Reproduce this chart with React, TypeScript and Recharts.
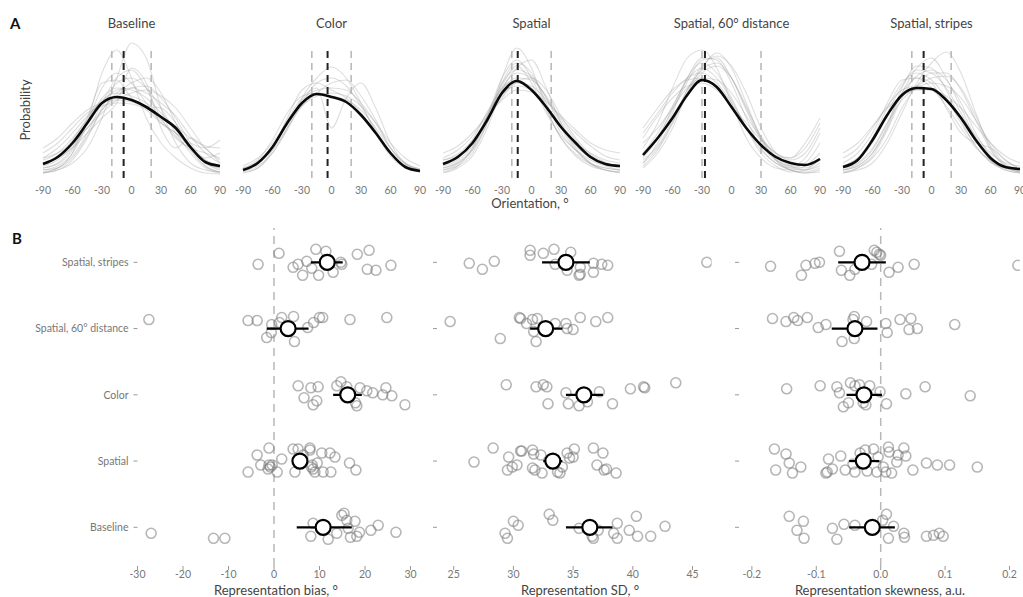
import React from 'react';
import { LineChart, Line, XAxis, YAxis, ReferenceLine, ScatterChart, Scatter } from 'recharts';

// ---------- Panel A data ----------
const panelTitles = ['Baseline', 'Color', 'Spatial', 'Spatial, 60° distance', 'Spatial, stripes'];
const orientations = [-90, -75, -60, -45, -30, -15, 0, 15, 30, 45, 60, 75, 90];
const orientationTicks = [-90, -60, -30, 0, 30, 60, 90];

const meanBaseline = [14, 21, 35, 55, 75, 81, 78, 71, 61, 50, 31, 16, 12];
const meanColor = [8, 15, 31, 55, 75, 84, 81, 76, 63, 45, 25, 11, 7];
const meanSpatial = [14, 21, 35, 58, 85, 97, 88, 71, 51, 35, 21, 14, 12];
const meanSpatial60 = [23, 40, 60, 83, 98, 91, 71, 50, 33, 21, 15, 13, 19];
const meanStripes = [11, 18, 38, 63, 83, 90, 89, 78, 60, 38, 20, 11, 9];

const grayBaseline = [
  [8, 12, 25, 55, 105, 128, 100, 60, 35, 20, 10, 5, 4],
  [5, 8, 15, 30, 60, 100, 135, 120, 70, 35, 15, 8, 6],
  [10, 15, 30, 55, 80, 90, 88, 80, 65, 50, 30, 15, 8],
  [15, 22, 38, 60, 78, 85, 82, 75, 62, 48, 30, 18, 12],
  [20, 30, 45, 62, 75, 80, 78, 70, 58, 42, 28, 20, 25],
  [5, 8, 18, 40, 70, 95, 100, 90, 70, 45, 25, 10, 5],
  [12, 18, 32, 50, 68, 82, 90, 92, 80, 60, 35, 18, 10],
  [25, 35, 50, 65, 72, 75, 74, 68, 55, 45, 35, 30, 38],
  [8, 10, 20, 42, 68, 85, 95, 100, 85, 55, 28, 12, 6],
  [15, 20, 30, 45, 60, 75, 110, 95, 50, 30, 40, 30, 15],
  [5, 10, 22, 45, 75, 100, 108, 90, 60, 40, 30, 25, 20],
  [18, 25, 40, 58, 75, 88, 90, 85, 75, 62, 42, 25, 15],
  [30, 40, 55, 68, 75, 78, 76, 70, 62, 52, 40, 32, 30],
  [10, 14, 28, 55, 90, 105, 95, 75, 55, 45, 30, 15, 10],
  [6, 10, 25, 60, 95, 98, 80, 72, 70, 55, 30, 12, 6],
  [20, 25, 35, 50, 65, 78, 85, 88, 82, 70, 50, 30, 18],
];
const grayColor = [
  [6, 10, 25, 50, 80, 100, 111, 100, 75, 45, 22, 10, 6],
  [8, 14, 30, 55, 78, 88, 90, 88, 75, 55, 30, 14, 8],
  [10, 16, 32, 58, 80, 90, 50, 80, 95, 70, 35, 15, 9],
  [5, 10, 28, 60, 88, 95, 88, 80, 65, 45, 25, 12, 6],
  [9, 15, 28, 50, 72, 85, 95, 98, 82, 58, 30, 14, 8],
  [12, 20, 35, 55, 72, 82, 85, 82, 72, 55, 35, 20, 12],
  [7, 12, 25, 48, 75, 95, 100, 92, 72, 48, 26, 12, 7],
  [10, 18, 38, 65, 82, 85, 82, 78, 68, 50, 30, 15, 9],
];
const graySpatial = [
  [10, 15, 28, 55, 100, 130, 110, 70, 40, 22, 12, 8, 6],
  [15, 20, 35, 62, 90, 105, 100, 80, 55, 35, 22, 15, 12],
  [8, 12, 25, 55, 95, 115, 105, 75, 45, 28, 15, 10, 8],
  [20, 28, 42, 65, 85, 92, 88, 72, 52, 35, 25, 18, 15],
  [12, 18, 32, 58, 88, 100, 98, 82, 58, 38, 22, 14, 10],
  [5, 10, 22, 50, 88, 110, 118, 90, 55, 30, 15, 8, 5],
  [18, 22, 35, 60, 82, 95, 92, 78, 60, 45, 32, 22, 18],
  [8, 14, 28, 58, 92, 112, 95, 65, 42, 28, 18, 12, 8],
  [14, 20, 38, 66, 90, 98, 90, 70, 50, 32, 20, 14, 12],
  [6, 12, 30, 62, 95, 108, 102, 80, 50, 28, 14, 8, 6],
  [25, 32, 45, 62, 78, 88, 86, 76, 62, 48, 35, 28, 25],
  [10, 16, 30, 62, 100, 118, 100, 68, 40, 24, 14, 10, 8],
  [18, 24, 38, 58, 80, 96, 100, 88, 62, 40, 24, 16, 12],
];
const graySpatial60 = [
  [30, 55, 90, 120, 128, 110, 75, 40, 20, 10, 8, 12, 25],
  [15, 35, 65, 100, 115, 105, 80, 50, 25, 12, 6, 8, 20],
  [45, 65, 85, 100, 105, 95, 75, 52, 32, 18, 12, 20, 45],
  [20, 40, 70, 100, 120, 118, 95, 60, 30, 15, 8, 6, 10],
  [10, 25, 50, 85, 110, 125, 110, 75, 40, 18, 8, 5, 8],
  [35, 50, 70, 90, 100, 98, 85, 62, 40, 25, 18, 25, 50],
  [25, 45, 72, 98, 110, 100, 78, 50, 28, 15, 10, 15, 35],
  [18, 32, 58, 88, 108, 115, 100, 70, 40, 20, 10, 8, 15],
  [40, 62, 80, 92, 95, 88, 72, 55, 38, 25, 20, 30, 55],
  [12, 28, 55, 88, 112, 122, 112, 85, 50, 25, 12, 8, 12],
  [22, 40, 68, 96, 118, 120, 100, 68, 38, 18, 8, 5, 6],
  [50, 70, 88, 98, 100, 90, 70, 50, 32, 22, 20, 35, 60],
  [15, 30, 55, 85, 105, 112, 100, 72, 42, 22, 12, 10, 18],
];
const grayStripes = [
  [8, 12, 25, 50, 85, 110, 120, 100, 70, 40, 18, 8, 5],
  [5, 8, 15, 35, 65, 95, 115, 126, 105, 65, 30, 12, 6],
  [12, 20, 40, 70, 95, 105, 98, 80, 55, 32, 16, 10, 8],
  [15, 25, 45, 75, 98, 100, 90, 72, 50, 30, 18, 12, 10],
  [6, 10, 20, 40, 70, 92, 105, 105, 88, 58, 28, 12, 6],
  [10, 18, 35, 65, 92, 108, 105, 90, 65, 38, 18, 10, 8],
  [20, 30, 50, 72, 88, 92, 88, 78, 62, 42, 25, 15, 12],
  [8, 14, 28, 55, 85, 102, 108, 98, 75, 45, 22, 10, 6],
  [5, 10, 22, 48, 80, 100, 95, 70, 45, 35, 30, 18, 8],
  [10, 15, 30, 55, 78, 90, 95, 92, 80, 58, 35, 18, 10],
  [25, 35, 52, 70, 82, 88, 88, 82, 70, 52, 35, 22, 15],
  [8, 12, 25, 52, 90, 112, 110, 88, 58, 32, 16, 8, 5],
  [12, 20, 38, 62, 82, 92, 100, 102, 90, 62, 32, 14, 8],
];

const biasMarkers = [-8, -4, -14, -27, -8];
const distractorMarkers = [[-20, 20], [-20, 20], [-20, 20], [-30, 30], [-20, 20]];
const dashedTop = 131;

const means = [meanBaseline, meanColor, meanSpatial, meanSpatial60, meanStripes];
const grays = [grayBaseline, grayColor, graySpatial, graySpatial60, grayStripes];

// ---------- Panel B data (rows bottom -> top) ----------
const rowLabels = ['Baseline', 'Spatial', 'Color', 'Spatial, 60° distance', 'Spatial, stripes'];

const biasBaseline = [-27.0, -13.3, -10.8, 8.1, 8.6, 11.9, 13.8, 14.9, 15.4, 16.0, 16.3, 16.8, 17.8, 18.2, 18.8, 21.3, 22.9, 26.8];
const biasBaselineJ = [6, 11, 11, 9, -4, 12, 6, -12, -14, -7, 1, 10, -6, 9, 5, 3, -2, 5];
const biasSpatial = [-5.7, -3.7, -2.9, -1.1, -1.1, -1.3, -0.4, 0.7, 1.7, 4.6, 4.2, 5.3, 6.4, 7.9, 7.9, 8.4, 8.6, 9.0, 10.5, 10.8, 12.3, 12.5, 13.4, 16.6, 18.0, -0.8, 8.2, 9.5];
const biasSpatialJ = [11, -6, 4, -13, 4, 8, 4, 11, -2, 11, -12, -12, -6, -13, -11, 4, 8, 11, -8, 11, -8, 11, -4, 2, 9, 6, 6, 2];
const biasColor = [5.3, 6.6, 8.1, 8.6, 9.4, 9.7, 13.8, 14.7, 16.0, 17.9, 18.2, 18.9, 20.4, 21.7, 23.9, 24.6, 25.9, 28.8];
const biasColorJ = [-9, 3, -7, 10, 6, -8, -9, -13, -8, 8, 11, -7, -4, -2, 0, -7, 1, 10];
const biasSpatial60 = [-27.5, -5.7, -3.7, -1.6, -0.6, -0.5, 1.2, 1.7, 4.3, 4.5, 7.4, 8.7, 10.0, 10.7, 16.7, 24.8];
const biasSpatial60J = [-9, -8, -8, 9, 4, -4, -6, -11, -12, 13, -1, -6, -11, -11, -9, -11];
const biasStripes = [-3.5, 1.1, 4.2, 5.3, 6.3, 7.2, 8.3, 9.2, 9.8, 11.4, 13.0, 14.7, 14.9, 18.3, 20.9, 20.5, 22.4, 25.7];
const biasStripesJ = [2, -9, 5, 2, 13, -1, 6, -13, 13, -11, 10, 0, 2, -8, -12, 7, 8, 3];
const biasMeans = [10.8, 5.7, 16.2, 3.1, 11.7];
const biasCI = [[5.0, 17.1], [4.6, 6.9], [13.0, 19.3], [-1.6, 7.6], [8.1, 15.1]];

const sdBaseline = [29.3, 29.5, 30.0, 30.4, 33.0, 33.3, 35.5, 36.7, 36.6, 37.1, 38.4, 38.7, 38.7, 39.7, 40.3, 40.4, 41.5, 42.7];
const sdBaselineJ = [6, 11, -6, -2, -13, -7, 1, 11, 9, 3, 6, -4, 11, 3, -11, 9, 9, -1];
const sdSpatial = [26.7, 28.3, 29.6, 29.5, 29.9, 30.3, 30.6, 30.7, 31.6, 31.7, 31.6, 31.8, 32.3, 32.4, 33.7, 33.9, 34.1, 34.5, 34.7, 35.1, 35.0, 36.7, 37.5, 37.0, 37.6, 37.8, 38.6];
const sdSpatialJ = [1, -13, -4, 9, 6, 4, -10, -10, -11, -7, 7, 9, -6, 12, 11, 12, 6, -8, -3, -12, -4, -13, -8, 4, 9, 8, 12];
const sdColor = [29.4, 31.9, 32.5, 32.8, 32.9, 34.4, 34.6, 35.5, 36.2, 37.2, 38.3, 39.8, 40.9, 41.0, 43.6];
const sdColorJ = [-10, -8, -10, -8, 9, -2, 9, 11, 7, -3, 9, -6, -8, -7, -12];
const sdSpatial60 = [24.7, 28.9, 30.5, 30.6, 31.1, 31.6, 32.0, 31.7, 31.9, 33.5, 34.4, 34.5, 35.0, 35.6, 36.9, 37.9];
const sdSpatial60J = [-7, 10, -11, -10, -5, -9, -10, 3, 13, -5, -5, 0, 1, -11, -7, -11];
const sdStripes = [26.3, 27.4, 28.4, 31.4, 31.4, 32.5, 33.4, 34.8, 33.5, 34.5, 35.6, 35.5, 35.6, 36.7, 36.7, 37.4, 37.9, 46.2];
const sdStripesJ = [1, 7, -1, -12, -7, -9, -13, -10, 2, 8, 5, 13, 12, 10, 1, 2, 3, 0];
const sdMeans = [36.4, 33.3, 35.9, 32.7, 34.4];
const sdCI = [[34.4, 38.3], [32.5, 34.1], [34.4, 37.5], [31.4, 34.1], [32.4, 36.4]];

const skBaseline = [-0.142, -0.120, -0.130, -0.119, -0.075, -0.068, -0.057, -0.040, 0.003, 0.009, 0.020, 0.012, 0.036, 0.037, 0.071, 0.082, 0.091, 0.097];
const skBaselineJ = [-11, -6, 3, 11, 1, 12, -3, -2, -7, -13, -1, 11, 6, 10, 9, 8, 6, 9];
const skSpatial = [-0.165, -0.163, -0.147, -0.142, -0.137, -0.124, -0.085, -0.083, -0.081, -0.075, -0.062, -0.055, -0.043, -0.040, -0.032, -0.024, -0.021, -0.011, -0.006, -0.004, 0.004, 0.008, 0.012, 0.013, 0.017, 0.025, 0.027, 0.036, 0.039, 0.050, 0.071, 0.088, 0.107, 0.150];
const skSpatialJ = [-12, 9, -7, 2, 12, 6, 12, 11, -2, 8, -5, 9, 3, 11, -8, -11, 10, -12, 11, -4, 6, 11, -14, -9, 12, 1, -6, -13, -5, 9, 2, 4, 4, 6];
const skColor = [-0.146, -0.094, -0.068, -0.064, -0.047, -0.040, -0.033, -0.017, -0.001, -0.050, -0.058, -0.027, -0.023, 0.009, 0.039, 0.069, 0.139];
const skColorJ = [-6, -9, -8, -2, -12, -9, -10, -9, -3, 8, 12, 8, 10, 9, -1, -8, 1];
const skSpatial60 = [-0.168, -0.147, -0.135, -0.129, -0.114, -0.097, -0.085, -0.041, -0.043, -0.022, -0.041, -0.060, 0.008, 0.010, 0.030, 0.047, 0.044, 0.057, 0.115];
const skSpatial60J = [-10, -7, -11, -8, -11, -1, -4, -12, -9, -7, 10, 13, -5, 4, -9, -10, 1, 0, -4];
const skStripes = [-0.171, -0.064, -0.123, -0.116, -0.102, -0.095, -0.061, -0.048, -0.040, -0.014, -0.010, -0.006, -0.002, 0.000, 0.013, 0.027, 0.052, 0.213];
const skStripesJ = [4, -11, 13, 3, 1, 0, 8, 13, 7, 2, -12, -10, -8, -7, 10, 5, 2, 3];
const skMeans = [-0.013, -0.027, -0.026, -0.040, -0.029];
const skCI = [[-0.049, 0.022], [-0.049, -0.002], [-0.053, 0.002], [-0.076, -0.005], [-0.066, 0.008]];

const biasTicks = [-30, -20, -10, 0, 10, 20, 30];
const sdTicks = [25, 30, 35, 40, 45];
const skTicks = [-0.2, -0.1, 0, 0.1, 0.2];

const FONT = "'Lato', 'Open Sans', sans-serif";
const ROW_PX = 66.25;

function DensityPanel({ i }: { i: number }) {
  const gray = grays[i];
  const mean = means[i];
  const data = orientations.map((o, k) => {
    const row: any = { x: o, mean: mean[k] };
    gray.forEach((g, j) => {
      row['g' + j] = g[k];
    });
    return row;
  });
  return (
    <div style={{ position: 'absolute', left: 33 + 200 * i, top: 0 }}>
      <LineChart width={200} height={210} data={data} margin={{ top: 38, right: 13, bottom: 0, left: 10 }}>
        <XAxis
          dataKey="x"
          type="number"
          domain={[-90, 90]}
          ticks={orientationTicks}
          interval={0}
          axisLine={false}
          tickLine={false}
          tickMargin={3}
          height={32}
          tick={{ fontSize: 10.5, fill: '#777', fontFamily: FONT }}
        />
        <YAxis hide domain={[0, 140]} allowDataOverflow />
        {gray.map((_, j) => (
          <Line
            key={j}
            dataKey={'g' + j}
            type="monotone"
            stroke="#9a9a9a"
            strokeOpacity={0.33}
            strokeWidth={1.1}
            dot={false}
            isAnimationActive={false}
          />
        ))}
        {distractorMarkers[i].map((d, j) => (
          <ReferenceLine
            key={'d' + j}
            segment={[{ x: d, y: 0 }, { x: d, y: dashedTop }]}
            stroke="#b5b5b5"
            strokeWidth={1.5}
            strokeDasharray="7 5"
          />
        ))}
        <ReferenceLine
          segment={[{ x: biasMarkers[i], y: 0 }, { x: biasMarkers[i], y: dashedTop }]}
          stroke="#222"
          strokeWidth={2}
          strokeDasharray="7 5"
        />
        <Line dataKey="mean" type="monotone" stroke="#0a0a0a" strokeWidth={2.6} dot={false} isAnimationActive={false} />
      </LineChart>
    </div>
  );
}

const GrayDot = (p: any) => (
  <circle cx={p.cx} cy={p.cy} r={5} fill="none" stroke="#7a7a7a" strokeOpacity={0.55} strokeWidth={1.6} />
);
const MeanDot = (p: any) => (
  <circle cx={p.cx} cy={p.cy} r={7.5} fill="#fff" stroke="#000" strokeWidth={2.2} />
);
const NoDot = () => <g />;

type DotPanelProps = {
  left: number;
  width: number;
  yWidth: number;
  right: number;
  domain: [number, number];
  ticks: number[];
  xs: number[][];
  js: number[][];
  rowMeans: number[];
  cis: number[][];
  showLabels: boolean;
  zeroLine: boolean;
  fmt?: (v: number) => string;
};

function DotPanel(props: DotPanelProps) {
  const { left, width, yWidth, right, domain, ticks, xs, js, rowMeans, cis, showLabels, zeroLine, fmt } = props;
  const points = xs.flatMap((row, r) => row.map((x, k) => ({ x, y: r - js[r][k] / ROW_PX })));
  const meanData = rowMeans.map((m, r) => ({ x: m, y: r }));
  return (
    <div style={{ position: 'absolute', left, top: 220 }}>
      <ScatterChart width={width} height={377} margin={{ top: 8, right, bottom: 0, left: 0 }}>
        <XAxis
          dataKey="x"
          type="number"
          domain={domain}
          allowDataOverflow
          ticks={ticks}
          interval={0}
          axisLine={false}
          tickLine={{ stroke: '#999' }}
          tickSize={4}
          tickMargin={1}
          height={31}
          tickFormatter={fmt}
          tick={{ fontSize: 10.5, fill: '#777', fontFamily: FONT }}
        />
        <YAxis
          dataKey="y"
          type="number"
          domain={[-0.584, 4.518]}
          allowDataOverflow
          ticks={[0, 1, 2, 3, 4]}
          interval={0}
          axisLine={false}
          tickLine={{ stroke: '#999' }}
          tickSize={4}
          tickMargin={5}
          width={yWidth}
          tickFormatter={(v: number) => (showLabels ? rowLabels[v] : '')}
          tick={{ fontSize: 10.5, fill: '#777', fontFamily: FONT }}
        />
        {zeroLine && <ReferenceLine x={0} stroke="#b8b8b8" strokeWidth={1.5} strokeDasharray="8 6" />}
        <Scatter data={points} shape={GrayDot} isAnimationActive={false} />
        {cis.map((c, r) => (
          <Scatter
            key={'ci' + r}
            data={[{ x: c[0], y: r }, { x: c[1], y: r }]}
            line={{ stroke: '#000', strokeWidth: 2.2 }}
            shape={NoDot}
            isAnimationActive={false}
          />
        ))}
        <Scatter data={meanData} shape={MeanDot} isAnimationActive={false} />
      </ScatterChart>
    </div>
  );
}

const labelStyle: React.CSSProperties = {
  position: 'absolute',
  fontFamily: FONT,
  fontSize: 13,
  color: '#444',
  lineHeight: '16px',
  whiteSpace: 'nowrap',
  textAlign: 'center',
};

export default function App() {
  return (
    <div
      style={{
        position: 'absolute',
        left: 0,
        top: 0,
        width: 1023,
        height: 597,
        background: '#fff',
        fontFamily: FONT,
        overflow: 'hidden',
      }}
    >
      {panelTitles.map((t, i) => (
        <div key={t} style={{ ...labelStyle, left: 31.5 + 200 * i, width: 200, top: 15 }}>
          {t}
        </div>
      ))}
      {[0, 1, 2, 3, 4].map((i) => (
        <DensityPanel key={i} i={i} />
      ))}
      <div style={{ ...labelStyle, left: 430, width: 200, top: 195 }}>Orientation, °</div>
      <div
        style={{
          ...labelStyle,
          left: 25,
          top: 110,
          transform: 'translate(-50%, -50%) rotate(-90deg)',
        }}
      >
        Probability
      </div>
      <div style={{ position: 'absolute', left: 10, top: 14, fontFamily: FONT, fontWeight: 700, fontSize: 15, color: '#111' }}>A</div>
      <div style={{ position: 'absolute', left: 12, top: 229, fontFamily: FONT, fontWeight: 700, fontSize: 15, color: '#111' }}>B</div>

      <DotPanel
        left={0}
        width={420}
        yWidth={137.5}
        right={9.5}
        domain={[-30, 30]}
        ticks={biasTicks}
        xs={[biasBaseline, biasSpatial, biasColor, biasSpatial60, biasStripes]}
        js={[biasBaselineJ, biasSpatialJ, biasColorJ, biasSpatial60J, biasStripesJ]}
        rowMeans={biasMeans}
        cis={biasCI}
        showLabels={true}
        zeroLine={true}
      />
      <DotPanel
        left={420}
        width={300}
        yWidth={17}
        right={8.4}
        domain={[23.6, 46.6]}
        ticks={sdTicks}
        xs={[sdBaseline, sdSpatial, sdColor, sdSpatial60, sdStripes]}
        js={[sdBaselineJ, sdSpatialJ, sdColorJ, sdSpatial60J, sdStripesJ]}
        rowMeans={sdMeans}
        cis={sdCI}
        showLabels={false}
        zeroLine={false}
      />
      <DotPanel
        left={720}
        width={303}
        yWidth={19}
        right={3.2}
        domain={[-0.22, 0.216]}
        ticks={skTicks}
        xs={[skBaseline, skSpatial, skColor, skSpatial60, skStripes]}
        js={[skBaselineJ, skSpatialJ, skColorJ, skSpatial60J, skStripesJ]}
        rowMeans={skMeans}
        cis={skCI}
        showLabels={false}
        zeroLine={true}
        fmt={(v: number) => v.toFixed(1)}
      />
      <div style={{ ...labelStyle, left: 176, width: 200, top: 582 }}>Representation bias, °</div>
      <div style={{ ...labelStyle, left: 480, width: 200, top: 582 }}>Representation SD, °</div>
      <div style={{ ...labelStyle, left: 780, width: 200, top: 582 }}>Representation skewness, a.u.</div>
    </div>
  );
}
